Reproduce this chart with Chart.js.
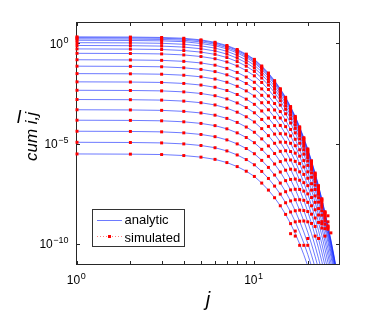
<!DOCTYPE html>
<html>
<head>
<meta charset="utf-8">
<script src="https://cdn.jsdelivr.net/npm/chart.js@4.4.1/dist/chart.umd.min.js"></script>
<style>
  html, body { margin: 0; padding: 0; background: #fff; }
</style>
</head>
<body>
<canvas id="chart" width="374" height="312"></canvas>
<script>
// x values
const jValues = [1, 2, 3, 4, 5, 6, 7, 8, 9, 10, 11, 12, 13, 14, 15, 16, 17, 18, 19, 20,
  21, 22, 23, 24, 25, 26, 27, 28, 29, 30];

// log10 of I_cum for each curve i (top curve first)
const logI1 = [0.31, 0.30, 0.28, 0.24, 0.16, 0.04, -0.12, -0.32, -0.55, -0.81, -1.14, -1.49, -1.87, -2.27, -2.70, -3.16, -3.65, -4.17, -4.71, -5.27, -5.86, -6.47, -7.10, -7.75, -8.42, -9.10, -9.80, -10.51, -11.24, -11.99];
const logI2 = [0.27, 0.26, 0.24, 0.20, 0.12, 0.00, -0.16, -0.36, -0.59, -0.85, -1.18, -1.53, -1.91, -2.31, -2.74, -3.20, -3.69, -4.21, -4.75, -5.31, -5.90, -6.51, -7.14, -7.79, -8.46, -9.14, -9.84, -10.55, -11.28, -12.03];
const logI3 = [0.21, 0.20, 0.18, 0.14, 0.06, -0.06, -0.22, -0.42, -0.65, -0.91, -1.24, -1.59, -1.97, -2.37, -2.80, -3.26, -3.75, -4.27, -4.81, -5.37, -5.96, -6.57, -7.20, -7.85, -8.52, -9.20, -9.90, -10.61, -11.34];
const logI4 = [0.14, 0.13, 0.11, 0.07, -0.02, -0.13, -0.29, -0.49, -0.72, -0.98, -1.31, -1.66, -2.04, -2.44, -2.87, -3.33, -3.82, -4.34, -4.88, -5.44, -6.03, -6.64, -7.27, -7.92, -8.59, -9.27, -9.97, -10.68, -11.41];
const logI5 = [0.02, 0.01, -0.01, -0.06, -0.14, -0.25, -0.41, -0.61, -0.84, -1.10, -1.43, -1.78, -2.16, -2.56, -2.99, -3.45, -3.94, -4.46, -5.00, -5.56, -6.15, -6.76, -7.39, -8.04, -8.71, -9.39, -10.09, -10.80, -11.53];
const logI6 = [-0.12, -0.13, -0.15, -0.20, -0.28, -0.39, -0.55, -0.75, -0.98, -1.24, -1.57, -1.92, -2.30, -2.70, -3.13, -3.59, -4.08, -4.60, -5.14, -5.70, -6.29, -6.90, -7.53, -8.18, -8.85, -9.53, -10.23, -10.94, -11.67];
const logI7 = [-0.29, -0.30, -0.32, -0.37, -0.45, -0.56, -0.72, -0.92, -1.15, -1.41, -1.74, -2.09, -2.47, -2.87, -3.30, -3.76, -4.25, -4.77, -5.31, -5.87, -6.46, -7.07, -7.70, -8.35, -9.02, -9.70, -10.40, -11.11];
const logI8 = [-0.51, -0.52, -0.54, -0.59, -0.67, -0.78, -0.94, -1.14, -1.37, -1.63, -1.96, -2.31, -2.69, -3.09, -3.52, -3.98, -4.47, -4.99, -5.53, -6.09, -6.68, -7.29, -7.92, -8.57, -9.24, -9.92, -10.62, -11.33];
const logI9 = [-0.83, -0.84, -0.86, -0.91, -0.99, -1.10, -1.26, -1.46, -1.69, -1.95, -2.28, -2.63, -3.01, -3.41, -3.84, -4.30, -4.79, -5.31, -5.85, -6.41, -7.00, -7.61, -8.24, -8.89, -9.56, -10.24, -10.94, -11.65];
const logI10 = [-1.15, -1.16, -1.18, -1.23, -1.31, -1.42, -1.58, -1.78, -2.01, -2.27, -2.60, -2.95, -3.33, -3.73, -4.16, -4.62, -5.11, -5.63, -6.17, -6.73, -7.32, -7.93, -8.56, -9.21, -9.88, -10.56, -11.26];
const logI11 = [-1.52, -1.53, -1.55, -1.60, -1.68, -1.79, -1.95, -2.15, -2.38, -2.64, -2.97, -3.32, -3.70, -4.10, -4.53, -4.99, -5.48, -6.00, -6.54, -7.10, -7.69, -8.30, -8.93, -9.58, -10.25, -10.93, -11.63];
const logI12 = [-1.93, -1.94, -1.96, -2.01, -2.09, -2.20, -2.36, -2.56, -2.79, -3.05, -3.38, -3.73, -4.11, -4.51, -4.94, -5.40, -5.89, -6.41, -6.95, -7.51, -8.10, -8.71, -9.34, -9.99, -10.66, -11.34];
const logI13 = [-2.35, -2.36, -2.38, -2.43, -2.51, -2.62, -2.78, -2.98, -3.21, -3.47, -3.80, -4.15, -4.53, -4.93, -5.36, -5.82, -6.31, -6.83, -7.37, -7.93, -8.52, -9.13, -9.76, -10.41, -11.08];
const logI14 = [-2.81, -2.82, -2.84, -2.89, -2.97, -3.08, -3.24, -3.44, -3.67, -3.93, -4.26, -4.61, -4.99, -5.39, -5.82, -6.28, -6.77, -7.29, -7.83, -8.39, -8.98, -9.59, -10.22, -10.87, -11.54];
const logI15 = [-3.32, -3.33, -3.35, -3.40, -3.48, -3.59, -3.75, -3.95, -4.18, -4.44, -4.77, -5.12, -5.50, -5.90, -6.33, -6.79, -7.28, -7.80, -8.34, -8.90, -9.49, -10.10, -10.73, -11.38];
const logI16 = [-3.84, -3.85, -3.87, -3.92, -4.00, -4.11, -4.27, -4.47, -4.70, -4.96, -5.29, -5.64, -6.02, -6.42, -6.85, -7.31, -7.80, -8.32, -8.86, -9.42, -10.01, -10.62, -11.25];
const logI17 = [-4.39, -4.40, -4.42, -4.47, -4.55, -4.66, -4.82, -5.02, -5.25, -5.51, -5.84, -6.19, -6.57, -6.97, -7.40, -7.86, -8.35, -8.87, -9.41, -9.97, -10.56, -11.17];
const logI18 = [-4.94, -4.95, -4.97, -5.02, -5.10, -5.21, -5.37, -5.57, -5.80, -6.06, -6.39, -6.74, -7.12, -7.52, -7.95, -8.41, -8.90, -9.42, -9.96, -10.52, -11.11];
const logI19 = [-5.52, -5.53, -5.55, -5.60, -5.68, -5.79, -5.95, -6.15, -6.38, -6.64, -6.97, -7.32, -7.70, -8.10, -8.53, -8.99, -9.48, -10.00, -10.54, -11.10];

const curves = [logI1, logI2, logI3, logI4, logI5, logI6, logI7, logI8, logI9, logI10,
  logI11, logI12, logI13, logI14, logI15, logI16, logI17, logI18, logI19];

// simulated dots follow the lines down to about here, then only noisy counts remain
const simFloor = -9.3;
// noisy simulated points in the tail: [j, log10 I]
const simNoise = [[16, -9.49], [17, -9.36], [17, -9.61], [18, -10.07], [19, -10.07], [20, -10.07],
  [20, -9.73], [22, -9.61], [23, -9.73], [25, -9.61], [24, -9.0], [26, -8.9], [26, -8.6],
  [25, -8.4], [27, -9.45]];

// tick values
const xMajorTicks = [1, 10];
const xMinorTicks = [2, 3, 4, 5, 6, 7, 8, 9, 20, 30];
const yMajorTicks = [0, -5, -10];

const FONT = "'Liberation Sans', Arial, Helvetica, sans-serif";
const LINE_COLOR = "rgba(20, 40, 255, 0.62)";
const DOT_COLOR = "#ff0000";

// Build datasets
const analyticSets = curves.map((c) => ({
  data: c.map((v, k) => ({ x: jValues[k], y: Math.pow(10, v) })),
  showLine: true,
  pointRadius: 0,
  borderColor: LINE_COLOR,
  borderWidth: 1,
  order: 1,
}));

const simPoints = [];
curves.forEach((c) => {
  c.forEach((v, k) => {
    if (v >= simFloor) simPoints.push({ x: jValues[k], y: Math.pow(10, v) });
  });
});
simNoise.forEach(([j, v]) => simPoints.push({ x: j, y: Math.pow(10, v) }));

const simSet = {
  data: simPoints,
  showLine: false,
  pointRadius: 2.1,
  pointStyle: "rect",
  pointBackgroundColor: DOT_COLOR,
  pointBorderWidth: 0,
  borderColor: DOT_COLOR,
  clip: 4,
  order: 0,
};

// "10" with a raised exponent
function drawPow(ctx, exp, x, y, align) {
  ctx.font = `12px ${FONT}`;
  const wBase = ctx.measureText("10").width;
  ctx.font = `9px ${FONT}`;
  const wExp = ctx.measureText(exp).width;
  const left = align === "right" ? x - wBase - wExp : x - (wBase + wExp) / 2;
  ctx.textAlign = "left";
  ctx.textBaseline = "alphabetic";
  ctx.font = `12px ${FONT}`;
  ctx.fillText("10", left, y);
  ctx.font = `9px ${FONT}`;
  ctx.fillText(exp, left + wBase + 0.5, y - 5);
}

const matlabAxes = {
  id: "matlabAxes",
  // axes sit under the data, like MATLAB's default layer
  beforeDatasetsDraw(chart) {
    const ctx = chart.ctx;
    const a = chart.chartArea;
    const xs = chart.scales.x;
    const ys = chart.scales.y;
    ctx.save();
    ctx.strokeStyle = "#262626";
    ctx.lineWidth = 1;
    ctx.strokeRect(a.left - 0.5, a.top - 0.5, a.right - a.left + 1, a.bottom - a.top + 1);

    // inward ticks
    ctx.beginPath();
    xMajorTicks.concat(xMinorTicks).forEach((t) => {
      const px = Math.round(xs.getPixelForValue(t)) + 0.5;
      ctx.moveTo(px, a.bottom);
      ctx.lineTo(px, a.bottom - 3);
      ctx.moveTo(px, a.top);
      ctx.lineTo(px, a.top + 3);
    });
    yMajorTicks.forEach((e) => {
      const py = Math.round(ys.getPixelForValue(Math.pow(10, e))) + 0.5;
      ctx.moveTo(a.left, py);
      ctx.lineTo(a.left + 3, py);
      ctx.moveTo(a.right, py);
      ctx.lineTo(a.right - 3, py);
    });
    ctx.stroke();
    ctx.restore();
  },
  afterDraw(chart) {
    const ctx = chart.ctx;
    const a = chart.chartArea;
    const xs = chart.scales.x;
    const ys = chart.scales.y;
    ctx.save();

    // tick labels
    ctx.fillStyle = "#000";
    drawPow(ctx, "0", xs.getPixelForValue(1) - 1, a.bottom + 20, "center");
    drawPow(ctx, "1", xs.getPixelForValue(10) - 1, a.bottom + 20, "center");
    yMajorTicks.forEach((e) => {
      const py = ys.getPixelForValue(Math.pow(10, e));
      drawPow(ctx, e === 0 ? "0" : "\u2212" + Math.abs(e), a.left - 9, py + 4.5, "right");
    });

    // x title
    ctx.font = `italic 20px ${FONT}`;
    ctx.textAlign = "center";
    ctx.textBaseline = "alphabetic";
    ctx.fillText("j", (a.left + a.right) / 2, 306);

    // y title: I with rotated subscript
    ctx.font = `italic 18px ${FONT}`;
    ctx.fillText("I", 19, 123);
    ctx.save();
    ctx.translate(37, 161);
    ctx.rotate(-Math.PI / 2);
    ctx.font = `italic 17px ${FONT}`;
    ctx.textAlign = "left";
    ctx.fillText("cum i,j", 0, 0);
    ctx.restore();

    // legend
    ctx.fillStyle = "#fff";
    ctx.fillRect(92, 209, 92, 38);
    ctx.strokeStyle = "#333";
    ctx.lineWidth = 1;
    ctx.strokeRect(92.5, 209.5, 92, 37);
    ctx.strokeStyle = LINE_COLOR;
    ctx.beginPath();
    ctx.moveTo(97, 220.5);
    ctx.lineTo(122, 220.5);
    ctx.stroke();
    ctx.strokeStyle = "rgba(255, 0, 0, 0.5)";
    ctx.setLineDash([1, 2]);
    ctx.beginPath();
    ctx.moveTo(97, 236.5);
    ctx.lineTo(122, 236.5);
    ctx.stroke();
    ctx.setLineDash([]);
    ctx.fillStyle = DOT_COLOR;
    ctx.fillRect(108, 235, 3, 3);
    ctx.fillStyle = "#000";
    ctx.font = `13px ${FONT}`;
    ctx.textAlign = "left";
    ctx.fillText("analytic", 124.5, 224);
    ctx.fillText("simulated", 124.5, 241.5);

    ctx.restore();
  },
};

new Chart(document.getElementById("chart"), {
  type: "scatter",
  data: { datasets: [...analyticSets, simSet] },
  options: {
    responsive: false,
    animation: false,
    layout: { padding: { left: 77, right: 35, top: 23, bottom: 48 } },
    plugins: { legend: { display: false }, tooltip: { enabled: false } },
    scales: {
      x: { type: "logarithmic", min: 1, max: 30, display: false },
      y: { type: "logarithmic", min: 1e-11, max: 10, display: false },
    },
  },
  plugins: [matlabAxes],
});
</script>
</body>
</html>
